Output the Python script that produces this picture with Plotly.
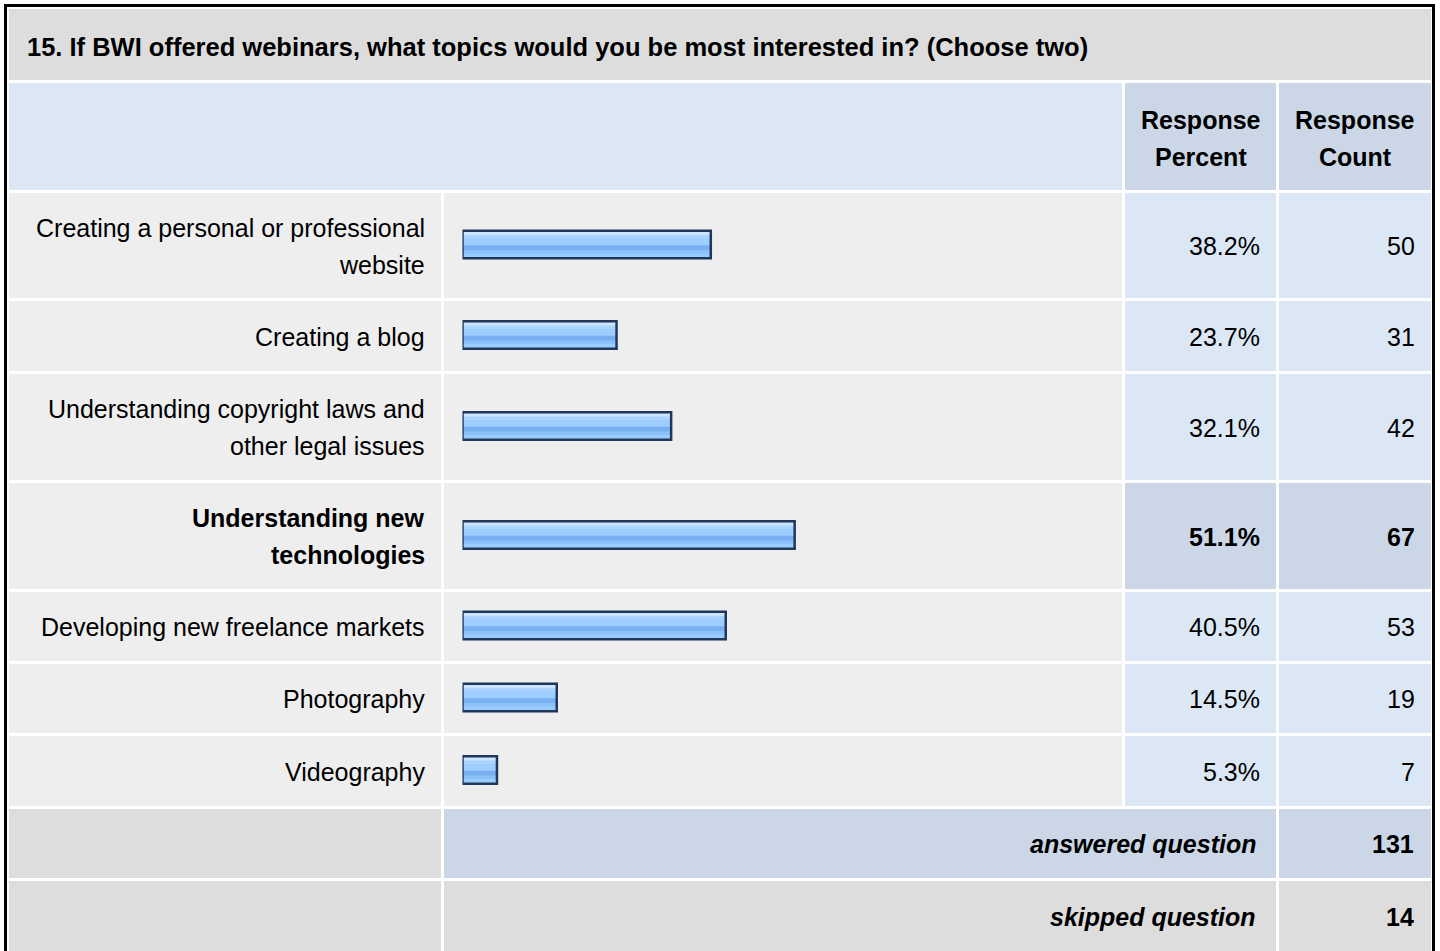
import plotly.graph_objects as go

# ---------------- data ----------------
question = "15. If BWI offered webinars, what topics would you be most interested in? (Choose two)"
topics = [
    "Creating a personal or professional<br>website",
    "Creating a blog",
    "Understanding copyright laws and<br>other legal issues",
    "Understanding new<br>technologies",
    "Developing new freelance markets",
    "Photography",
    "Videography",
]
response_percent = [38.2, 23.7, 32.1, 51.1, 40.5, 14.5, 5.3]
response_count = [50, 31, 42, 67, 53, 19, 7]
answered_question = 131
skipped_question = 14
header_percent = "Response<br>Percent"
header_count = "Response<br>Count"

# ---------------- layout constants ----------------
W, H = 1440, 951
GAP = 3
TOP = 9
row_heights = [71, 107, 105, 70, 106, 106, 69, 69, 70, 69, 71]
col_edges = [(9, 441), (444, 1122), (1125, 1276), (1279, 1431)]

GREY = "#DDDDDD"
LIGHT = "#EEEEEE"
BLUE = "#DCE7F5"
DBLUE = "#CBD7E6"
FONT = "Liberation Sans, Arial, Helvetica, sans-serif"
FS = 25
LINE = 37
PAD = 14

rows = []
y = TOP
for h in row_heights:
    rows.append((y, y + h))
    y += h + GAP

hi = max(range(len(response_percent)), key=lambda i: response_percent[i])

shapes = []
annotations = []


def cell(x0, x1, y0, y1, color):
    shapes.append(dict(type="rect", xref="x", yref="y", x0=x0, x1=x1, y0=y0, y1=y1,
                       fillcolor=color, line=dict(width=0), layer="below"))


def text(x, yc, s, anchor="right", bold=False, italic=False, size=FS):
    lines = s.split("<br>")
    n = len(lines)
    for k, ln in enumerate(lines):
        yy = yc + (k - (n - 1) / 2) * LINE
        t = ln
        if bold:
            t = "<b>" + t + "</b>"
        if italic:
            t = "<i>" + t + "</i>"
        annotations.append(dict(xref="x", yref="y", x=x, y=yy, text=t, showarrow=False,
                                xanchor=anchor, yanchor="middle",
                                font=dict(family=FONT, size=size, color="#000000")))


# title row
ty0, ty1 = rows[0]
cell(col_edges[0][0], col_edges[3][1], ty0, ty1, GREY)
text(25, (ty0 + ty1) / 2 + 2, question, anchor="left", bold=True, size=25.5)

# header row
hy0, hy1 = rows[1]
hc = (hy0 + hy1) / 2 + 2
cell(col_edges[0][0], col_edges[1][1], hy0, hy1, BLUE)
cell(col_edges[2][0], col_edges[2][1], hy0, hy1, DBLUE)
cell(col_edges[3][0], col_edges[3][1], hy0, hy1, DBLUE)
text((col_edges[2][0] + col_edges[2][1]) / 2, hc, header_percent, anchor="center", bold=True)
text((col_edges[3][0] + col_edges[3][1]) / 2, hc, header_count, anchor="center", bold=True)

# data rows
centers = []
for i, lab in enumerate(topics):
    y0, y1 = rows[2 + i]
    yc = (y0 + y1) / 2
    centers.append(yc - 1)
    b = (i == hi)
    cell(col_edges[0][0], col_edges[0][1], y0, y1, LIGHT)
    cell(col_edges[1][0], col_edges[1][1], y0, y1, LIGHT)
    cell(col_edges[2][0], col_edges[2][1], y0, y1, DBLUE if b else BLUE)
    cell(col_edges[3][0], col_edges[3][1], y0, y1, DBLUE if b else BLUE)
    text(col_edges[0][1] - PAD, yc + 0.5, lab, bold=b)
    text(col_edges[2][1] - PAD, yc + 0.5, f"{response_percent[i]:.1f}%", bold=b)
    text(col_edges[3][1] - PAD, yc + 0.5, str(response_count[i]), bold=b)

# answered / skipped rows
for k, (lab, val, col) in enumerate([("answered question", answered_question, DBLUE),
                                      ("skipped question", skipped_question, GREY)]):
    y0, y1 = rows[2 + len(topics) + k]
    yc = (y0 + y1) / 2
    cell(col_edges[0][0], col_edges[0][1], y0, y1, GREY)
    cell(col_edges[1][0], col_edges[2][1], y0, y1, col)
    cell(col_edges[3][0], col_edges[3][1], y0, y1, col)
    text(col_edges[2][1] - PAD - 4, yc + 0.5, lab, bold=True, italic=True)
    text(col_edges[3][1] - PAD - 1, yc + 0.5, str(val), bold=True)

# outer frame
shapes.append(dict(type="rect", xref="x", yref="y", x0=5.5, x1=1433.5, y0=5.5, y1=H + 10,
                   fillcolor="rgba(0,0,0,0)", line=dict(color="#000000", width=3), layer="above"))

# ---------------- bars ----------------
fig = go.Figure()
BAR_H = 27.5
# stripes: (start, end) relative to bar top (pixels inside the bar), colour
stripes = [
    (0.0, 27.5, "#99CCFF"),
    (0.0, 4.5, "#CCE5FF"),
    (4.5, 7.8, "#ABD5FF"),
    (7.8, 14.5, "#9DCEFF"),
    (14.5, 19.5, "#78AFF0"),
    (19.5, 22.8, "#8BC0F8"),
]
for s0, s1, colr in stripes:
    fig.add_trace(go.Bar(
        x=response_percent, y=centers, orientation="h",
        xaxis="x2", yaxis="y",
        width=s1 - s0, offset=-BAR_H / 2 + s0,
        marker=dict(color=colr, line=dict(width=0)),
        hoverinfo="skip", showlegend=False,
    ))
fig.add_trace(go.Bar(
    x=response_percent, y=centers, orientation="h",
    xaxis="x2", yaxis="y",
    width=BAR_H, offset=-BAR_H / 2,
    marker=dict(color="rgba(0,0,0,0)", line=dict(color="#1E375A", width=2.5)),
    text=[f"{v:.1f}%" for v in response_percent], textposition="none",
    hovertemplate="%{text}<extra></extra>", showlegend=False,
))

x0_px, px_per_pct = 462.5, 6.5
fig.update_layout(
    width=W, height=H,
    margin=dict(l=0, r=0, t=0, b=0),
    paper_bgcolor="#FFFFFF", plot_bgcolor="rgba(0,0,0,0)",
    barmode="overlay",
    xaxis=dict(range=[0, W], visible=False, fixedrange=True, domain=[0, 1]),
    yaxis=dict(range=[H, 0], visible=False, fixedrange=True, domain=[0, 1]),
    xaxis2=dict(range=[0, 100], visible=False, fixedrange=True, anchor="y",
                domain=[x0_px / W, (x0_px + 100 * px_per_pct) / W]),
    shapes=shapes,
    annotations=annotations,
)

fig.write_html("out.html", config={"displayModeBar": False},
               post_script="document.body.style.margin='0';document.body.style.overflow='hidden';")
